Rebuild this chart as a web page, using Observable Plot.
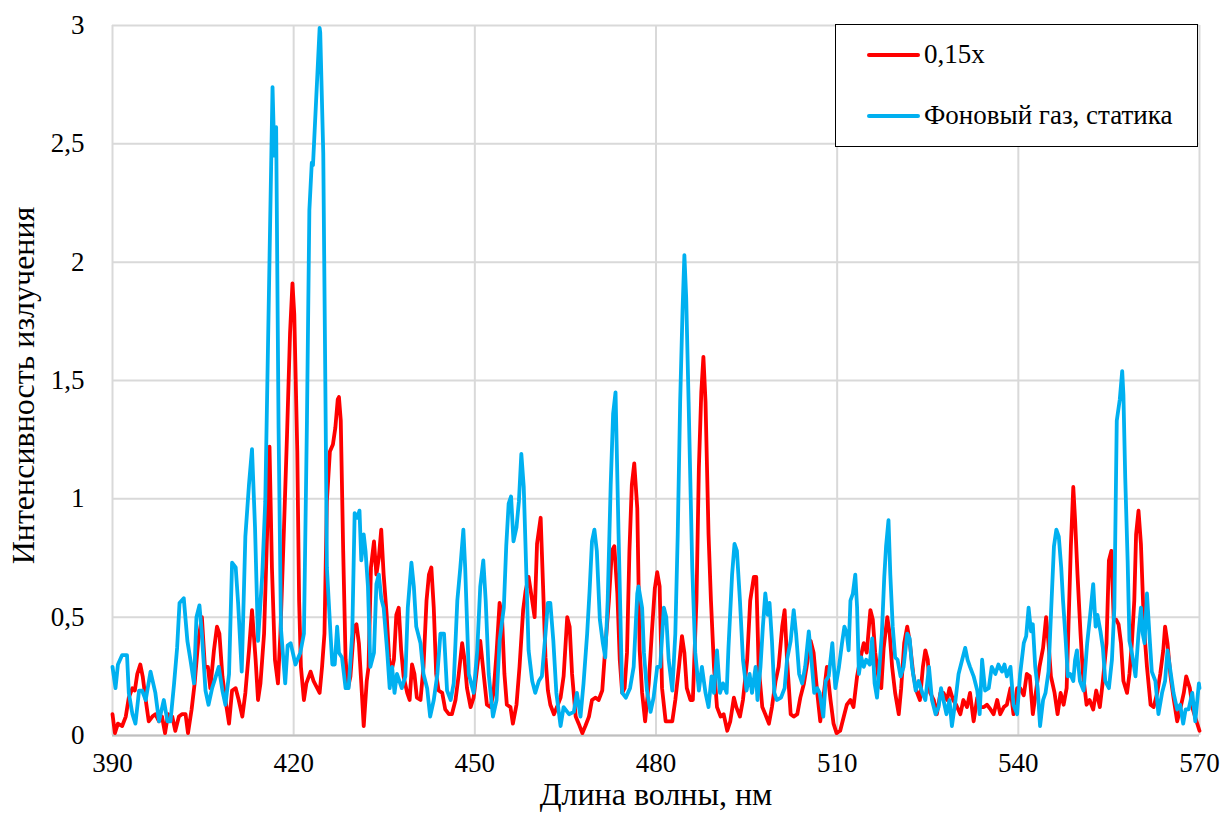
<!DOCTYPE html>
<html><head><meta charset="utf-8">
<script src="https://cdn.jsdelivr.net/npm/d3@7"></script>
<script src="https://cdn.jsdelivr.net/npm/@observablehq/plot@0.6"></script>
<style>
body{margin:0;background:#fff;}
#wrap{position:relative;width:1221px;height:816px;font-family:'Liberation Serif',Tinos,'Times New Roman',Times,'DejaVu Serif',serif;}
#legend{position:absolute;left:835px;top:24px;width:361px;height:121px;border:1.5px solid #000;background:#fff;}
.item{position:absolute;left:31px;display:flex;align-items:center;font-size:27px;line-height:31px;}
.sw{width:53px;height:4px;margin-right:4px;border-radius:2px;}
svg text{font-family:'Liberation Serif',Tinos,'Times New Roman',Times,'DejaVu Serif',serif !important;}
</style></head>
<body><div id="wrap"><div id="chart"></div>
<div id="legend"></div></div>
<script>
const xTicks = [390, 420, 450, 480, 510, 540, 570];
const yTicks = [0, 0.5, 1, 1.5, 2, 2.5, 3];
const seriesNames = ["0,15x", "Фоновый газ, статика"];
const seriesColors = ["#ff0000", "#00b0f0"];

const redPoints = [[390.0,0.09],[390.4,0.01],[390.9,0.05],[391.6,0.04],[392.2,0.08],[392.7,0.16],[393.3,0.20],[393.7,0.19],[394.1,0.26],[394.6,0.30],[395.0,0.25],[395.5,0.15],[396.0,0.06],[396.6,0.08],[397.1,0.09],[397.7,0.06],[398.2,0.08],[398.7,0.01],[399.2,0.09],[399.9,0.08],[400.4,0.02],[401.0,0.08],[401.5,0.09],[402.1,0.09],[402.5,0.01],[403.1,0.11],[403.6,0.22],[404.2,0.40],[404.8,0.50],[405.3,0.29],[405.8,0.29],[406.2,0.20],[406.8,0.36],[407.3,0.46],[407.7,0.43],[408.2,0.25],[408.7,0.15],[409.3,0.05],[409.8,0.19],[410.4,0.20],[410.9,0.15],[411.5,0.08],[412.0,0.18],[412.6,0.36],[413.1,0.53],[413.7,0.32],[414.1,0.15],[414.5,0.22],[415.1,0.43],[415.6,0.85],[416.0,1.22],[416.4,0.71],[416.9,0.32],[417.4,0.22],[417.8,0.43],[418.4,0.88],[418.9,1.27],[419.4,1.70],[419.8,1.91],[420.1,1.78],[420.6,1.20],[420.9,0.57],[421.2,0.29],[421.7,0.15],[422.1,0.22],[422.8,0.27],[423.3,0.23],[423.9,0.20],[424.3,0.18],[424.7,0.29],[425.1,0.43],[425.5,0.99],[426.0,1.20],[426.5,1.23],[426.9,1.30],[427.3,1.42],[427.5,1.43],[427.8,1.33],[428.2,0.78],[428.6,0.32],[429.0,0.20],[429.4,0.25],[430.0,0.46],[430.4,0.47],[430.8,0.39],[431.2,0.22],[431.6,0.04],[432.1,0.23],[432.4,0.29],[432.8,0.71],[433.3,0.82],[433.7,0.68],[434.1,0.75],[434.5,0.87],[434.9,0.68],[435.4,0.51],[435.8,0.33],[436.1,0.26],[436.6,0.32],[437.0,0.51],[437.4,0.54],[437.8,0.36],[438.2,0.25],[438.8,0.18],[439.2,0.15],[439.6,0.30],[440.0,0.26],[440.4,0.16],[441.0,0.15],[441.5,0.29],[442.0,0.57],[442.4,0.68],[442.8,0.71],[443.2,0.54],[443.6,0.26],[444.0,0.19],[444.6,0.18],[445.1,0.11],[445.7,0.09],[446.2,0.09],[446.8,0.15],[447.3,0.25],[447.9,0.39],[448.3,0.32],[448.7,0.20],[449.3,0.12],[449.8,0.16],[450.4,0.29],[450.9,0.40],[451.5,0.25],[452.0,0.13],[452.6,0.12],[453.1,0.18],[453.6,0.35],[454.1,0.56],[454.5,0.50],[454.9,0.26],[455.3,0.13],[455.9,0.12],[456.3,0.05],[456.9,0.13],[457.4,0.29],[458.0,0.53],[458.4,0.61],[458.9,0.67],[459.5,0.57],[459.9,0.50],[460.3,0.81],[460.9,0.92],[461.3,0.63],[461.7,0.33],[462.1,0.19],[462.5,0.13],[463.1,0.09],[463.6,0.12],[464.2,0.16],[464.7,0.25],[465.3,0.50],[465.7,0.46],[466.1,0.26],[466.7,0.08],[467.2,0.05],[467.8,0.01],[468.3,0.04],[468.9,0.08],[469.4,0.15],[470.0,0.16],[470.5,0.15],[471.1,0.19],[471.6,0.37],[472.2,0.57],[472.7,0.78],[473.1,0.80],[473.6,0.60],[474.0,0.32],[474.4,0.18],[474.8,0.20],[475.2,0.35],[475.6,0.78],[476.0,1.06],[476.4,1.15],[476.9,0.96],[477.3,0.36],[477.7,0.18],[478.2,0.06],[478.8,0.22],[479.3,0.43],[479.8,0.62],[480.2,0.69],[480.6,0.63],[481.0,0.20],[481.6,0.06],[482.1,0.06],[482.7,0.06],[483.2,0.15],[483.8,0.29],[484.3,0.42],[484.7,0.35],[485.1,0.20],[485.7,0.15],[486.1,0.15],[486.7,0.57],[487.1,1.13],[487.5,1.45],[487.85,1.60],[488.2,1.41],[488.7,0.85],[489.1,0.57],[489.6,0.29],[490.1,0.12],[490.7,0.08],[491.2,0.09],[491.8,0.02],[492.3,0.06],[492.9,0.16],[493.3,0.12],[493.9,0.08],[494.4,0.15],[495.1,0.32],[495.6,0.57],[496.2,0.67],[496.6,0.67],[497.0,0.29],[497.6,0.12],[498.1,0.09],[498.7,0.05],[499.2,0.12],[499.8,0.23],[500.3,0.29],[500.9,0.46],[501.3,0.53],[501.7,0.32],[502.3,0.09],[502.8,0.08],[503.4,0.09],[503.9,0.16],[504.5,0.22],[505.0,0.30],[505.6,0.40],[506.1,0.35],[506.7,0.18],[507.2,0.06],[507.8,0.18],[508.3,0.29],[508.9,0.15],[509.4,0.05],[509.9,0.01],[510.5,0.02],[511.1,0.08],[511.6,0.13],[512.2,0.15],[512.7,0.12],[513.3,0.25],[513.8,0.32],[514.4,0.39],[514.9,0.35],[515.5,0.53],[515.9,0.49],[516.3,0.35],[516.9,0.23],[517.3,0.20],[517.7,0.37],[518.3,0.50],[518.7,0.43],[519.1,0.29],[519.6,0.18],[520.2,0.09],[520.6,0.20],[521.1,0.39],[521.6,0.46],[522.0,0.40],[522.6,0.26],[523.1,0.19],[523.7,0.15],[524.2,0.29],[524.6,0.36],[525.0,0.32],[525.4,0.18],[526.0,0.15],[526.5,0.09],[527.1,0.18],[527.6,0.18],[528.2,0.15],[528.6,0.20],[529.2,0.15],[529.7,0.13],[530.4,0.09],[530.9,0.15],[531.5,0.12],[532.0,0.18],[532.6,0.06],[533.2,0.16],[533.7,0.12],[534.3,0.12],[534.8,0.13],[535.4,0.11],[535.9,0.09],[536.5,0.15],[537.0,0.09],[537.6,0.12],[538.1,0.13],[538.7,0.20],[539.2,0.09],[539.8,0.20],[540.3,0.20],[540.9,0.17],[541.4,0.26],[541.9,0.25],[542.4,0.09],[543.0,0.20],[543.5,0.29],[544.1,0.37],[544.6,0.50],[545.0,0.39],[545.4,0.25],[546.0,0.18],[546.5,0.09],[547.0,0.18],[547.5,0.13],[548.0,0.20],[548.3,0.46],[548.7,0.80],[549.1,1.05],[549.4,0.91],[549.8,0.68],[550.3,0.43],[550.7,0.26],[551.3,0.13],[551.8,0.15],[552.4,0.11],[552.9,0.19],[553.5,0.12],[554.0,0.23],[554.6,0.39],[555.0,0.74],[555.4,0.78],[555.8,0.49],[556.2,0.49],[556.6,0.47],[557.0,0.39],[557.4,0.23],[558.0,0.18],[558.4,0.26],[558.8,0.39],[559.2,0.57],[559.5,0.85],[559.9,0.95],[560.3,0.81],[560.8,0.46],[561.3,0.29],[561.9,0.13],[562.4,0.12],[563.0,0.18],[563.5,0.26],[564.0,0.36],[564.3,0.46],[564.7,0.39],[565.2,0.25],[565.7,0.16],[566.3,0.06],[566.8,0.11],[567.4,0.18],[567.8,0.25],[568.4,0.20],[568.9,0.11],[569.5,0.06],[570.0,0.02]];

const bluePoints = [[390.0,0.29],[390.5,0.20],[390.9,0.30],[391.6,0.34],[392.4,0.34],[392.7,0.18],[393.3,0.09],[393.8,0.05],[394.4,0.19],[394.9,0.19],[395.5,0.15],[396.3,0.27],[397.1,0.18],[397.7,0.06],[398.5,0.15],[399.1,0.06],[399.6,0.06],[400.2,0.22],[400.7,0.37],[401.1,0.56],[401.8,0.58],[402.4,0.40],[402.9,0.32],[403.5,0.22],[403.9,0.50],[404.4,0.55],[404.8,0.43],[405.4,0.19],[405.9,0.13],[406.5,0.20],[407.6,0.29],[408.2,0.19],[408.7,0.13],[409.3,0.26],[409.8,0.73],[410.4,0.71],[410.8,0.56],[411.4,0.27],[412.0,0.84],[412.6,1.06],[413.1,1.21],[413.6,0.88],[414.1,0.40],[414.8,0.68],[415.3,0.99],[416.5,2.74],[416.8,2.45],[417.1,2.57],[417.5,1.30],[417.9,0.45],[418.6,0.22],[419.0,0.38],[419.5,0.39],[420.3,0.30],[421.1,0.35],[421.7,0.43],[422.2,1.33],[422.6,2.22],[423.0,2.42],[423.2,2.41],[424.3,2.99],[424.4,2.97],[424.9,2.46],[425.3,1.33],[425.5,0.71],[426.1,0.43],[426.4,0.30],[426.8,0.30],[427.2,0.46],[427.5,0.35],[428.0,0.33],[428.6,0.20],[429.1,0.20],[429.7,0.43],[430.1,0.94],[430.5,0.92],[430.9,0.95],[431.2,0.74],[431.6,0.85],[431.9,0.78],[432.3,0.63],[432.7,0.29],[433.3,0.35],[433.7,0.64],[434.1,0.68],[434.5,0.58],[434.9,0.54],[435.5,0.35],[435.9,0.20],[436.3,0.29],[436.7,0.18],[437.1,0.26],[437.9,0.20],[438.5,0.25],[438.9,0.54],[439.5,0.73],[439.9,0.63],[440.3,0.46],[441.0,0.39],[441.5,0.26],[442.1,0.20],[442.6,0.08],[443.2,0.15],[443.8,0.26],[444.3,0.43],[444.9,0.43],[445.4,0.19],[446.0,0.15],[446.5,0.22],[447.1,0.57],[447.6,0.71],[448.1,0.87],[448.4,0.71],[449.0,0.26],[449.3,0.23],[449.8,0.18],[450.4,0.36],[450.9,0.63],[451.4,0.74],[451.8,0.57],[452.3,0.26],[453.0,0.08],[453.6,0.15],[454.1,0.40],[454.8,0.54],[455.2,0.80],[455.6,0.98],[456.0,1.01],[456.4,0.82],[456.9,0.88],[457.3,0.99],[457.7,1.19],[458.1,1.05],[458.5,0.71],[458.9,0.36],[459.5,0.23],[460.0,0.18],[460.6,0.23],[461.1,0.25],[461.7,0.43],[462.1,0.56],[462.5,0.56],[463.0,0.40],[463.5,0.18],[464.2,0.04],[464.7,0.12],[465.6,0.09],[466.4,0.10],[466.9,0.18],[467.5,0.08],[468.0,0.22],[468.6,0.43],[469.0,0.61],[469.4,0.82],[469.8,0.87],[470.2,0.78],[470.7,0.49],[471.2,0.39],[471.6,0.33],[472.0,0.57],[472.5,1.06],[472.9,1.36],[473.3,1.45],[473.8,0.85],[474.4,0.18],[475.0,0.16],[475.7,0.20],[476.3,0.29],[476.9,0.60],[477.1,0.63],[477.7,0.54],[478.0,0.35],[478.5,0.19],[479.1,0.10],[479.6,0.16],[480.2,0.29],[480.7,0.29],[481.3,0.54],[481.7,0.50],[482.1,0.32],[482.7,0.19],[483.2,0.43],[483.6,0.85],[484.0,1.41],[484.4,1.80],[484.7,2.03],[485.0,1.85],[485.4,1.41],[486.0,0.71],[486.5,0.35],[487.1,0.19],[487.6,0.29],[488.2,0.18],[488.7,0.12],[489.2,0.25],[489.6,0.18],[490.1,0.36],[490.6,0.18],[491.1,0.22],[491.7,0.18],[492.0,0.37],[492.6,0.68],[493.0,0.81],[493.4,0.78],[493.9,0.57],[494.4,0.32],[495.0,0.19],[495.5,0.26],[495.9,0.18],[496.5,0.29],[496.8,0.15],[497.3,0.29],[497.7,0.46],[498.1,0.60],[498.5,0.51],[498.8,0.56],[499.2,0.40],[499.6,0.18],[500.0,0.15],[500.7,0.16],[501.3,0.20],[501.7,0.32],[502.3,0.40],[502.8,0.53],[503.2,0.43],[503.7,0.26],[504.2,0.22],[504.7,0.29],[505.3,0.44],[505.7,0.33],[506.2,0.18],[506.7,0.20],[507.1,0.18],[507.7,0.08],[508.1,0.23],[508.6,0.25],[509.2,0.39],[509.7,0.20],[510.3,0.29],[510.8,0.39],[511.2,0.46],[511.6,0.43],[511.9,0.36],[512.2,0.57],[512.6,0.60],[513.0,0.68],[513.3,0.54],[513.6,0.26],[514.0,0.33],[514.4,0.29],[514.8,0.32],[515.4,0.30],[515.8,0.41],[516.2,0.22],[516.6,0.16],[517.0,0.29],[517.4,0.43],[517.8,0.67],[518.1,0.80],[518.5,0.91],[518.8,0.68],[519.2,0.46],[519.6,0.33],[520.0,0.32],[520.5,0.25],[521.0,0.29],[521.6,0.43],[522.0,0.41],[522.4,0.29],[523.0,0.19],[523.5,0.23],[524.1,0.18],[524.6,0.15],[525.2,0.29],[525.7,0.15],[526.3,0.09],[526.8,0.12],[527.2,0.20],[527.6,0.15],[528.1,0.09],[528.6,0.15],[529.0,0.04],[529.6,0.15],[530.1,0.26],[530.7,0.32],[531.2,0.37],[531.6,0.32],[532.0,0.29],[532.6,0.25],[533.2,0.19],[533.6,0.09],[534.0,0.32],[534.5,0.19],[535.1,0.20],[535.6,0.29],[536.2,0.26],[536.7,0.30],[537.3,0.27],[537.7,0.30],[538.1,0.25],[538.7,0.29],[539.2,0.13],[539.8,0.09],[540.3,0.26],[540.9,0.39],[541.3,0.42],[541.7,0.54],[542.1,0.44],[542.4,0.47],[542.8,0.29],[543.2,0.20],[543.6,0.04],[544.1,0.15],[544.5,0.18],[545.0,0.27],[545.4,0.51],[545.9,0.80],[546.3,0.87],[546.7,0.84],[547.1,0.71],[547.4,0.57],[547.8,0.42],[548.2,0.25],[548.6,0.26],[549.1,0.23],[549.4,0.32],[549.7,0.36],[550.2,0.23],[550.8,0.19],[551.4,0.39],[551.9,0.51],[552.4,0.64],[552.8,0.46],[553.1,0.51],[553.6,0.44],[554.0,0.37],[554.4,0.23],[555.0,0.20],[555.5,0.32],[555.9,0.54],[556.3,1.33],[556.8,1.42],[557.2,1.54],[557.4,1.44],[557.7,1.09],[558.1,0.74],[558.4,0.40],[558.8,0.35],[559.4,0.25],[559.9,0.43],[560.3,0.54],[560.6,0.43],[560.9,0.39],[561.3,0.60],[561.7,0.43],[562.1,0.27],[562.7,0.23],[563.2,0.09],[563.8,0.18],[564.3,0.23],[564.7,0.36],[565.2,0.27],[565.7,0.18],[566.3,0.11],[566.8,0.13],[567.3,0.05],[567.7,0.11],[568.2,0.11],[568.8,0.18],[569.3,0.06],[569.9,0.22],[570.0,0.20]];

const serif = "'Liberation Serif', Tinos, 'Times New Roman', Times, 'DejaVu Serif', serif";
const chart = Plot.plot({
  width: 1221,
  height: 816,
  marginLeft: 112,
  marginRight: 22,
  marginTop: 25,
  marginBottom: 81,
  style: {fontFamily: serif, fontSize: "27px", color: "#000", background: "#fff"},
  x: {domain: [390, 570]},
  y: {domain: [0, 3]},
  marks: [
    Plot.gridX(xTicks, {stroke: "#d9d9d9", strokeOpacity: 1, strokeWidth: 2}),
    Plot.gridY(yTicks, {stroke: "#d9d9d9", strokeOpacity: 1, strokeWidth: 2}),
    Plot.ruleY([0], {stroke: "#bfbfbf", strokeWidth: 2}),
    Plot.axisX(xTicks, {tickSize: 0, tickPadding: 17, tickFormat: d => String(d), label: null, fontSize: 27, fontFamily: serif}),
    Plot.axisY(yTicks, {tickSize: 0, tickPadding: 28, tickFormat: d => String(d).replace(".", ","), label: null, fontSize: 27, fontFamily: serif}),
    Plot.line(redPoints, {x: d => d[0], y: d => d[1], stroke: seriesColors[0], strokeWidth: 3.8, strokeLinejoin: "round", strokeLinecap: "round"}),
    Plot.line(bluePoints, {x: d => d[0], y: d => d[1], stroke: seriesColors[1], strokeWidth: 3.8, strokeLinejoin: "round", strokeLinecap: "round"}),
    Plot.text(["Длина волны, нм"], {frameAnchor: "bottom", textAnchor: "middle", lineAnchor: "middle", dy: 59, fontSize: 32, fontFamily: serif}),
    Plot.text(["Интенсивность излучения"], {frameAnchor: "left", textAnchor: "middle", lineAnchor: "middle", rotate: -90, dx: -89, dy: 5, fontSize: 32, fontFamily: serif})
  ]
});
document.getElementById("chart").appendChild(chart);

const legend = document.getElementById("legend");
seriesNames.forEach((name, i) => {
  const item = document.createElement("div");
  item.className = "item";
  item.style.top = (i === 0 ? 14 : 75) + "px";
  const sw = document.createElement("div");
  sw.className = "sw";
  sw.style.background = seriesColors[i];
  const t = document.createElement("span");
  t.textContent = name;
  item.appendChild(sw);
  item.appendChild(t);
  legend.appendChild(item);
});
</script></body></html>
